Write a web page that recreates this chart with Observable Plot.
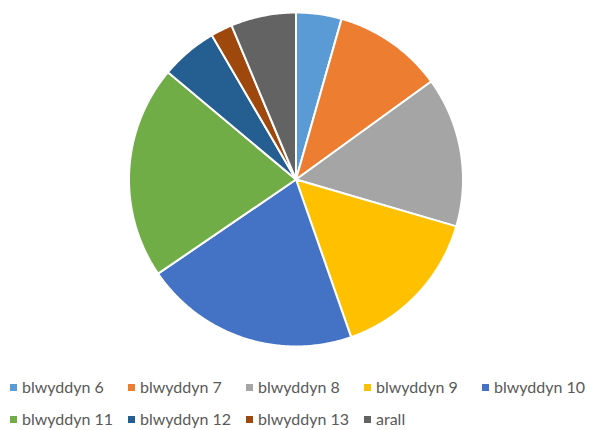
<!DOCTYPE html>
<html>
<head>
<meta charset="utf-8">
<script src="https://cdn.jsdelivr.net/npm/d3@7"></script>
<script src="https://cdn.jsdelivr.net/npm/@observablehq/plot@0.6"></script>
<style>
  html, body { margin: 0; padding: 0; background: #fff; overflow: hidden; }
  #wrap { position: relative; width: 594px; height: 430px; font-family: Lato, "Liberation Sans", sans-serif; }
  #legend { position: absolute; left: 10px; top: 371px; width: 590px; }
  .row { display: grid; grid-template-columns: repeat(5, 118px); height: 32px; align-items: center; }
  .item { display: flex; align-items: center; font-size: 16px; line-height: 18px; color: #595959; white-space: nowrap; }
  .sw { width: 7px; height: 7px; margin-right: 5px; flex: none; }
</style>
</head>
<body>
<div id="wrap"><div id="chart"></div><div id="legend"></div></div>
<script>
const categories = ["blwyddyn 6", "blwyddyn 7", "blwyddyn 8", "blwyddyn 9", "blwyddyn 10", "blwyddyn 11", "blwyddyn 12", "blwyddyn 13", "arall"];
const values = [4.4, 10.6, 14.5, 15.1, 20.8, 20.6, 5.5, 2.1, 6.3];
const colors = ["#5B9BD5", "#ED7D31", "#A5A5A5", "#FFC000", "#4472C4", "#70AD47", "#255E91", "#9E480E", "#636363"];
const legendRows = [categories.slice(0, 5), categories.slice(5)];

const arcs = d3.pie().sort(null)(values);
const rows = [];
arcs.forEach((a, i) => {
  const cat = categories[i];
  rows.push({cat, x: 0, y: 0});
  const n = Math.max(2, Math.ceil((a.endAngle - a.startAngle) / 0.01));
  for (let k = 0; k <= n; k++) {
    const t = a.startAngle + (a.endAngle - a.startAngle) * k / n;
    rows.push({cat, x: Math.sin(t), y: Math.cos(t)});
  }
});

const chart = Plot.plot({
  width: 594,
  height: 360,
  marginLeft: 128.5,
  marginRight: 131.5,
  marginTop: 12,
  marginBottom: 14,
  x: {axis: null, domain: [-1, 1]},
  y: {axis: null, domain: [-1, 1]},
  color: {domain: categories, range: colors},
  marks: [
    Plot.line(rows, {x: "x", y: "y", z: "cat", fill: "cat", stroke: "white", strokeWidth: 2, strokeLinejoin: "round", curve: "linear-closed"})
  ]
});
document.getElementById("chart").appendChild(chart);

const legend = document.getElementById("legend");
legendRows.forEach(r => {
  const row = document.createElement("div");
  row.className = "row";
  r.forEach(c => {
    const it = document.createElement("div");
    it.className = "item";
    const sw = document.createElement("span");
    sw.className = "sw";
    sw.style.background = colors[categories.indexOf(c)];
    it.appendChild(sw);
    it.appendChild(document.createTextNode(c));
    row.appendChild(it);
  });
  legend.appendChild(row);
});
</script>
</body>
</html>
